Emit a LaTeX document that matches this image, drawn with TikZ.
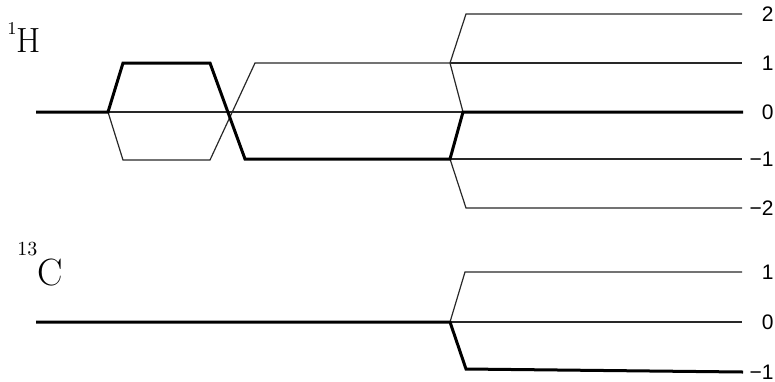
\documentclass[tikz,border=0pt]{standalone}
\usepackage{fontspec}
\usepackage{xcolor}
\usepackage{tikz}
\newfontfamily\lvlfont{Liberation Sans}
\definecolor{cPath}{RGB}{0,0,0}
\definecolor{cThin}{RGB}{40,40,40}

\begin{document}
\begin{tikzpicture}[x=0.5pt,y=-0.5pt,
  thinpath/.style={cThin,line width=0.6pt},
  thickpath/.style={cPath,line width=1.5pt},
  lvl/.style={anchor=east,inner sep=0pt,font=\lvlfont\fontsize{10.5}{12}\selectfont}]
\useasboundingbox (0,0) rectangle (775,381);
% nuclei
\node[anchor=base west,inner sep=0pt] (nucH) at (7,52) {\fontsize{9}{10}\selectfont\raisebox{9pt}{1}\fontsize{17.5}{20}\selectfont H};
\node[anchor=base west,inner sep=0pt] (nucC) at (17,285) {\fontsize{10}{12}\selectfont\raisebox{15pt}{13}\fontsize{19}{22}\selectfont C};
% 1H coherence levels
\node[lvl] (h2) at (774,14) {2};
\node[lvl] (h1) at (774,63) {1};
\node[lvl] (h0) at (774,112) {0};
\node[lvl] (hm1) at (774,159) {−1};
\node[lvl] (hm2) at (774,208) {−2};
\draw[thinpath] (108,112) -- (123,160) -- (210,160) -- (255,63) -- (450,63);
\draw[thinpath] (108,112) -- (463,112);
\draw[thinpath] (450,63) -- (466,14) -- (742,14);
\draw[thinpath] (450,63) -- (742,63);
\draw[thinpath] (450,63) -- (463,112);
\draw[thinpath] (450,159) -- (742,159);
\draw[thinpath] (450,159) -- (466,208) -- (742,208);
\draw[thickpath] (36,112) -- (108,112) -- (123,63) -- (210,63) -- (245,159) -- (450,159) -- (463,112) -- (743,112);
% 13C coherence levels
\node[lvl] (c1) at (774,272) {1};
\node[lvl] (c0) at (774,322) {0};
\node[lvl] (cm1) at (774,372) {−1};
\draw[thinpath] (450,322) -- (465,272) -- (742,272);
\draw[thinpath] (450,322) -- (742,322);
\draw[thickpath] (36,322) -- (450,322) -- (466,369) -- (743,372);
\end{tikzpicture}
\end{document}
